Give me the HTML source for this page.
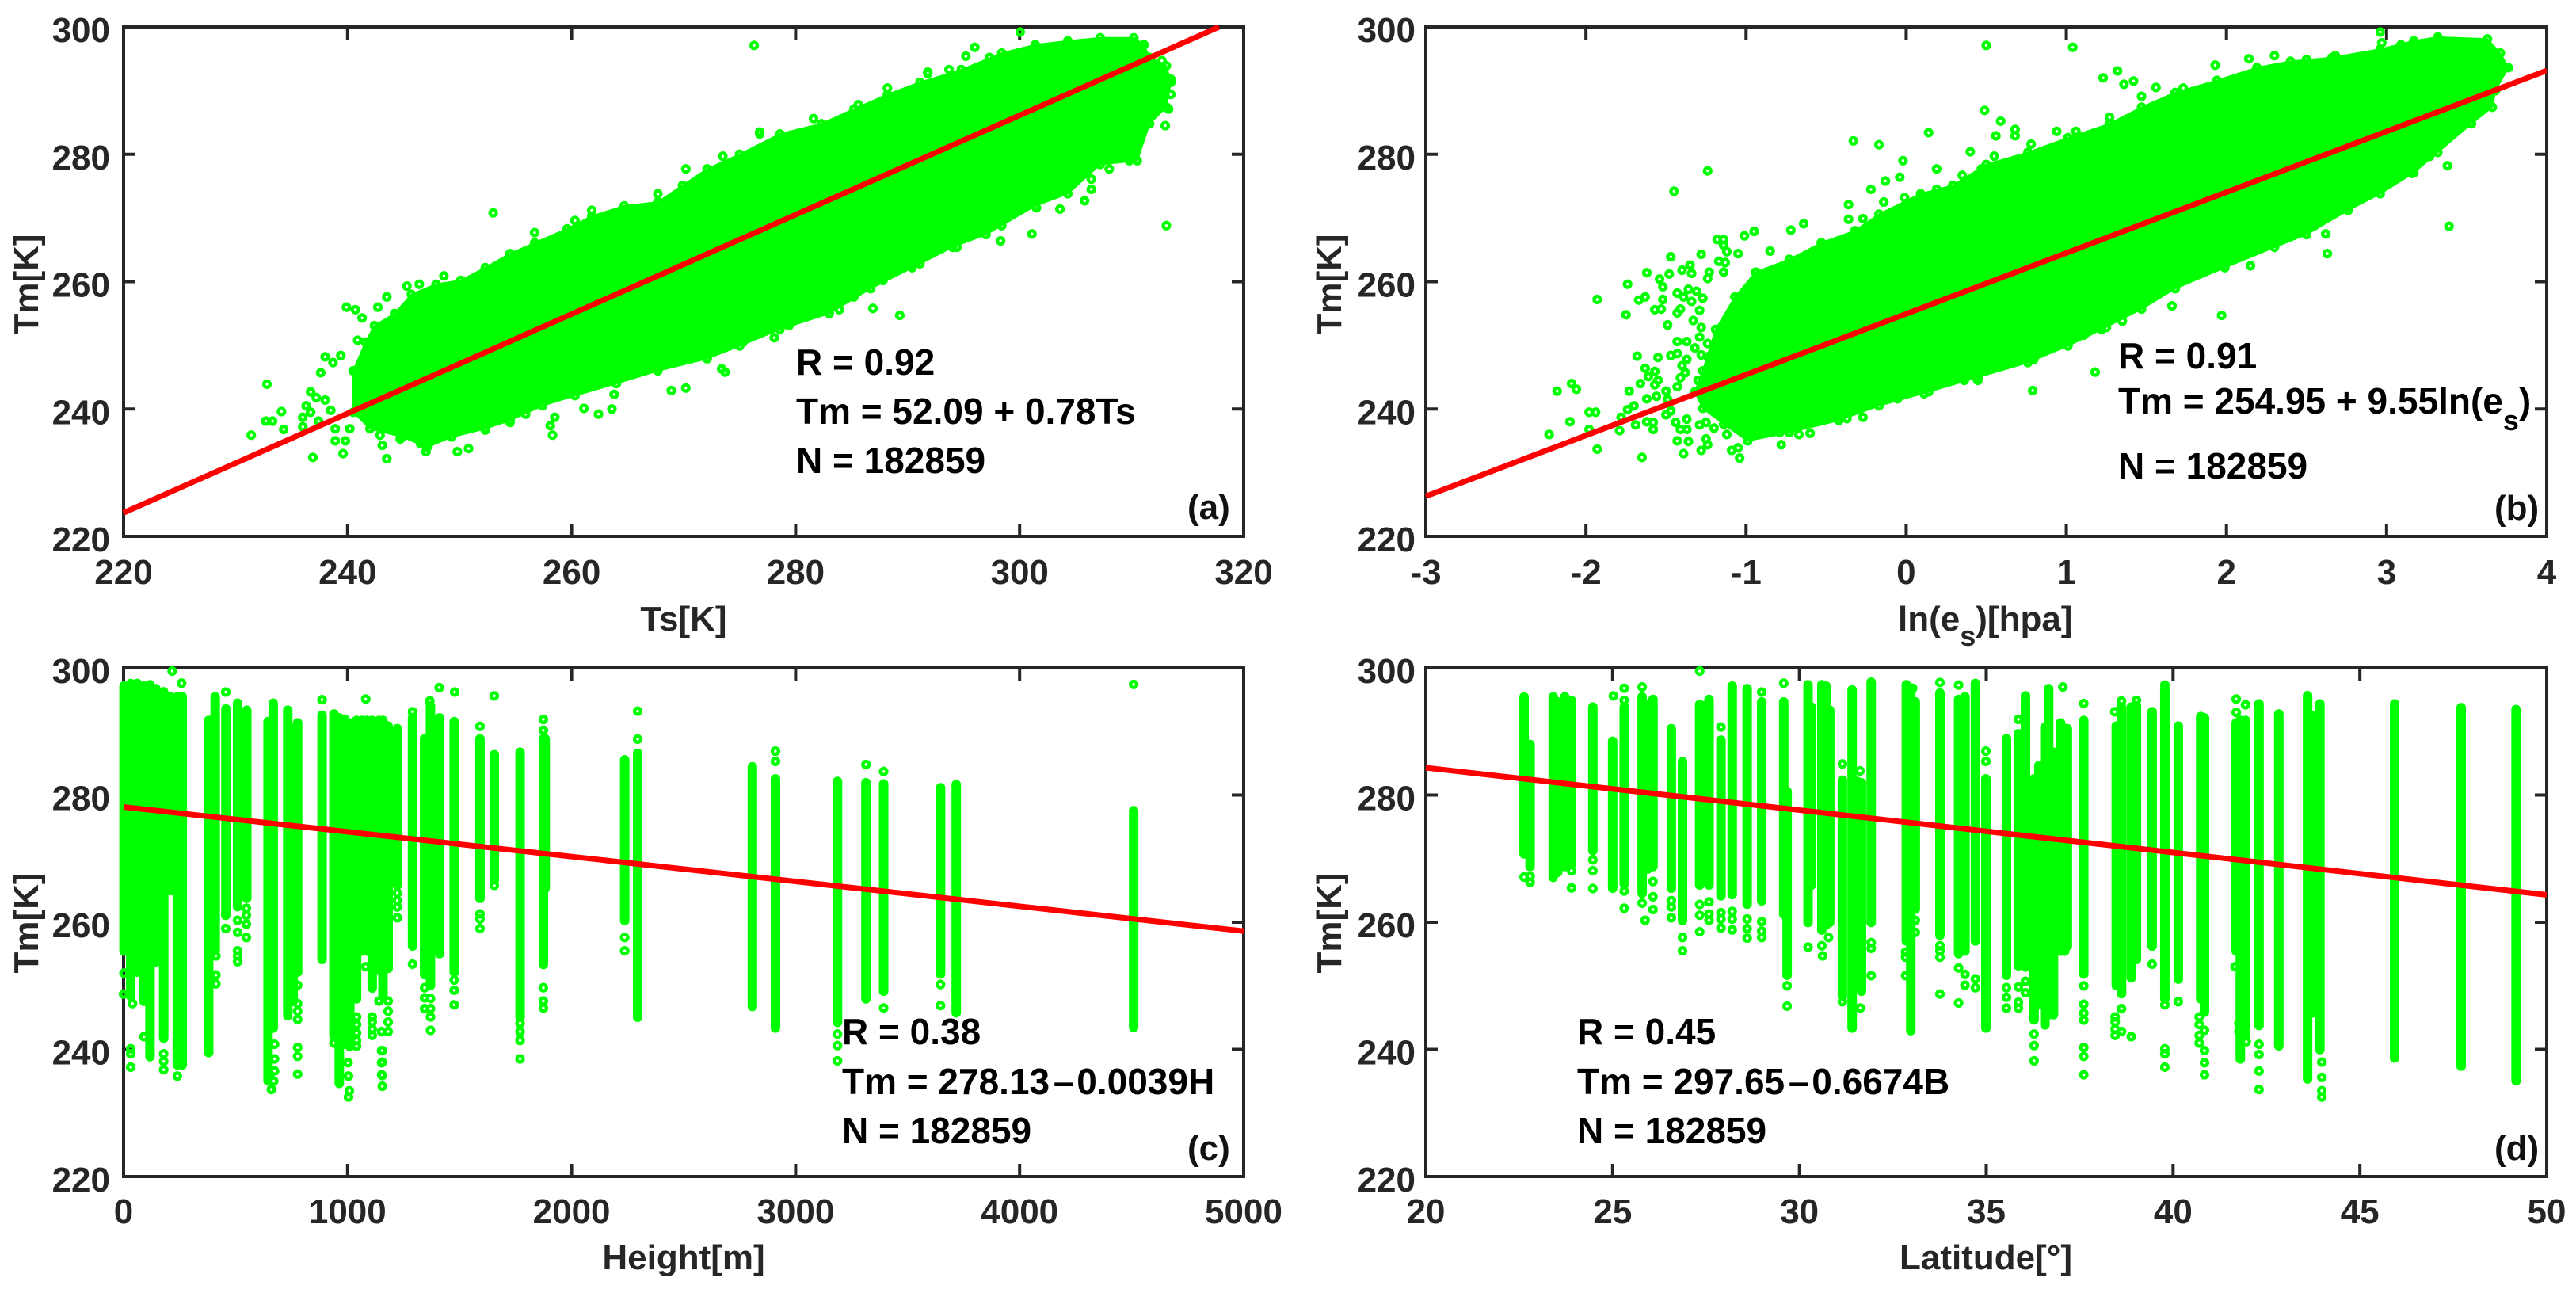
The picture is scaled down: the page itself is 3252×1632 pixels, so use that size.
<!DOCTYPE html>
<html lang="en">
<head>
<meta charset="utf-8">
<title>Tm regression scatter panels</title>
<style>
html,body{margin:0;padding:0;background:#fff;}
svg{display:block;font-family:"Liberation Sans",Arial,sans-serif;font-weight:bold;}
</style>
</head>
<body>
<svg id="figure" xmlns="http://www.w3.org/2000/svg" width="3252" height="1632" viewBox="0 0 3252 1632">
<rect x="0" y="0" width="3252" height="1632" fill="#ffffff"/>
</svg>
<script>
// Shared tick labels
const tmTicks=[220,240,260,280,300];

// Panel (a)
const aXTicks=[220,240,260,280,300,320];
const aCloudTs=[241.6,242.4,244.2,245.7,247.9,250.1,252.3,254.5,256.7,259.6,261.8,264.7,267.7,269.9,272.1,275,278.6,282.3,285.2,288.2,291.1,294.8,298.4,301.4,304.3,307.2,310.2,311.1,311.6,313.1,313.5,313.1,311.6,310.5,307.2,304.3,301.4,297,294,291.1,286.7,283,278.6,275,272.1,267.7,264,260.3,257.4,254.5,252.3,249.3,247.1,244.9,242,240.5,240.5];
const aCloudTm=[250.5,253.1,255,258,259.6,260.2,262.2,264.4,266.1,268.3,270.3,271.9,272.5,275.1,277.7,280,283.2,284.8,287.1,289.4,291.3,293.3,295.9,297.2,297.8,298.3,298.3,297.2,295.2,293.9,291.3,287.4,284.8,279,278.4,273.8,271.9,267.4,265.4,262.8,258.9,255,252.5,249.9,247.9,246,244,242.1,240.5,238.2,236.9,235.6,234,235.6,236.9,239.5,246];
const aPointTs=[300.05,276.3,253,256.7,313.1,286.9,289.3,239.9,240.7,241.3,240.9,238,239.4,238.7,237.6,232.8,236.7,237.2,238,234.1,236.3,236.7,238.5,232.7,233.3,236,234.3,236,237.4,231.4,238.9,240.2,238.9,239.8,236.9,239.6,243.5,243.1,242.9,244.7,246.5,246.5,247,249.8,250.8,252.3,254.5,255.9,258.3,258.1,258.5,261.1,262.4,263.6,263.8,268.9,270.2,273.4,273.7,278.1,283.9,298.3,301.1,301.5,303.6,305.8,306.4,306.4,308,309.8,313,313.3,313.5,313.5,312.7,310.8,296,295.2,270.2,276.8,281.6,291.8,264.7,266.2,269.1,271.3,275.3,279.4,282.7,285.2,287.8,290.4,294.4,296.2,298.4,248.6,246.4,245.3,243.5,242.7,261.8,260.3,267.7,273.5,276.8,285.6,288.2,291.8,293.7,297.3,242.4,244.2,246,247.9,250.1,253];
const aPointTm=[299.2,297.1,270.8,267.7,268.8,255.8,254.7,256,255.6,254.3,250.8,248.2,248.4,247.3,245.7,243.9,242.7,241.8,241.4,239.6,240.5,239.5,239.8,238.1,238.1,238.7,236.8,237.2,238.1,235.9,236.9,236.9,235,235,232.4,233,232.2,234.3,235.9,235.3,235.8,234.6,233.3,233.3,233.8,236.7,237.9,239.2,235.9,237.4,238.7,240.1,239.2,240,242.3,242.9,243.3,246.3,245.8,251.2,255.6,266.4,267.5,271.6,271.4,272.7,274.5,276.1,277.7,279,284.5,287.1,289.4,291.8,294.7,296.8,296.8,295.4,277.7,283.2,285.6,292.7,245.7,246.9,247.3,249.2,250.5,253.1,256,257.6,260.2,262.2,265.4,268.3,268.8,260.9,259.6,259.3,257.6,256,271.2,269.6,273.8,279.7,283.5,287.8,290.4,292.9,293.3,295.2,242.7,238.2,237.6,236.3,237.2,239.5];
const aFitTs=[220,317.8];
const aFitTm=[223.7,300];

// Panel (b)
const bXTicks=[-3,-2,-1,0,1,2,3,4];
const bCloudLn=[-1.27,-1.19,-1.07,-0.94,-0.73,-0.53,-0.32,-0.17,0.09,0.29,0.5,0.76,1.01,1.27,1.47,1.68,1.94,2.19,2.4,2.66,2.96,3.17,3.32,3.63,3.71,3.76,3.68,3.66,3.53,3.32,3.17,2.96,2.76,2.5,2.3,1.99,1.68,1.47,1.22,1.01,0.76,0.45,0.14,-0.17,-0.42,-0.73,-0.99,-1.14,-1.27,-1.32];
const bCloudTm=[246,252.5,257.6,261.5,263.5,266.1,268,270.6,273.8,275.1,278.4,280.3,282.6,284.8,287.4,289.7,291.6,293.6,294.6,295.2,296.5,297.8,298.4,298.1,295.9,293.6,290,287.4,284.8,280.3,277.1,273.8,271.2,267.4,265.4,262.2,258.9,255.7,252.5,249.9,247.3,245,242.7,240.5,238.2,236.3,235,237.6,240.1,242.7];
const bPointLn=[2.96,2.97,0.5,1.04,2.14,1.93,1.32,1.23,1.36,1.42,1.56,0.49,0.59,0.56,0.68,0.68,0.14,-0.33,-0.17,0.4,-0.02,-1.24,-1.45,-0.04,-0.13,-0.22,-0.36,-0.36,-0.64,-0.95,-1.01,-0.72,-0.85,1.18,0.79,1.66,1.97,2.55,2.62,2.63,2.15,3.39,3.38,3.27,3.16,-1.93,-1.75,-1.74,-1.67,-1.63,-1.62,-1.54,-1.52,-1.52,-1.53,-1.57,-1.47,-1.48,-1.43,-1.41,-1.43,-1.39,-1.36,-1.34,-1.33,-1.35,-1.34,-1.4,-1.49,-1.68,-1.55,-1.47,-1.43,-1.43,-1.37,-1.32,-1.63,-1.57,-1.61,-1.66,-1.55,-1.57,-1.73,-1.62,-1.56,-1.5,-1.49,-2.18,-2.09,-2.06,-1.98,-1.94,-2.1,-2.23,-1.98,-1.93,-1.65,-1.78,-1.74,-1.7,-1.79,-1.69,-1.62,-1.58,-1.58,-1.5,-1.47,-1.44,-1.41,-1.37,-1.37,-1.43,-1.36,-1.39,-1.28,-1.25,-1.24,-1.29,-1.25,-1.2,-1.12,-1.09,-1.05,-1.04,-1.28,-1.18,-1.14,-1.14,-1.12,-1.17,-1.13,-1.23,-1.24,-1.14,-1.31,-1.27,-1.29,-1.43,-1.41,-1.38,-1.4,-1.37,-1.3,-1.28,-1.29,-1.24,-1.24,-1.28,-1.05,0.797,0.53,0.447,0.363,0.112,-0.054,-0.27,-0.37,-0.52,-0.6,-0.67,-0.78,-0.79,1.11,1.25,1.35,0.9,2.3,2.5,2.68,3.09,2.96,2.24,1.73,1.47,1.27,1.06,0.94,0.78,0.55,0.47,0.35,0.19,0.19,-0.01,-0.14,-0.27,-0.32,-0.53,-0.55];
const bPointTm=[299.2,297.5,297.1,296.8,295,294,293.1,292,291,291.5,290.5,286.9,285.2,282.9,283.9,282.9,283.4,282.1,281.5,280.4,279,277.4,274.2,276.4,275.8,274.5,272.1,269.8,269.1,267.9,267.2,268.1,264.8,245.8,242.9,256.2,254.7,268.8,267.5,264.4,262.5,268.7,278.2,279.7,277,257.2,254.8,259.6,257.1,257.6,261.4,260.4,259.2,257.2,255.7,255.6,263.9,261.2,255.1,255.7,258.2,257.6,258.8,256.9,253.9,262.6,261.3,261.8,253.2,248.3,248.1,248.4,248.7,250.6,250.6,249.6,246.4,245.9,245.1,244,244.5,243.8,242.8,241.6,242,242.8,241.5,242.8,244,243.1,239.5,239.5,238,236,236.8,233.7,232.4,238.7,239.9,240.5,236.6,237.5,238,237.9,236.8,239.1,239.7,237.9,236.8,238.4,236.8,235,234.9,233,233.5,235.3,234.4,237.5,237.9,237,236,233.5,233.9,232.3,264.3,266.6,266.6,265.7,264.7,263.2,263,261.5,260.5,261.5,258.5,257.4,255.5,243.5,244.9,245.7,246.8,247.8,244.5,252.8,251.3,250.3,248.2,248.5,264.4,247.8,246.6,244.5,244.5,242.4,241.6,238.7,238.5,238.3,236.2,236,234.4,236.3,251.6,252.8,253.8,249.7,295.5,294.9,295.5,297.2,295.2,292.6,290.4,289.1,285.8,283.6,283.6,281.6,279.7,277.7,276.7,277.7,274.5,273.2,272.5,269.9,267.7,266.1,264.8];
const bFitLn=[-3,4];
const bFitTm=[226.3,293.15];

// Panel (c)
const cXTicks=[0,1000,2000,3000,4000,5000];
const cColumnHeight=[2,32,61,91,118,144,179,209,240,262,380,409,457,509,550,645,668,733,757,777,886,939,963,987,1010,1040,1063,1087,1110,1140,1158,1181,1222,1290,1344,1370,1411,1476,1591,1655,1770,1874,1882,2237,2295,2807,2910,3187,3314,3393,3647,3717,4509];
const cColumnTop=[297.9,298.3,298.3,297.9,298.1,297.5,297,296.2,296.2,296.2,292.5,296.2,294.3,295.2,294.1,292.3,295.2,294.1,291.2,292.1,293.3,293.5,292.9,292.7,292.1,292.5,292.5,292.5,292.5,292.5,292.5,291.6,291.2,292.9,289.6,294.8,292.9,292.3,289.6,287.1,287.5,289.6,289.6,286.3,287.3,285.2,283.3,282.9,282.7,282.5,281.9,282.4,278.3];
const cColumnBottom=[254.7,247.6,251.4,246.8,238.1,253,241,264.2,236.8,236.8,238.9,254.7,260.5,261.7,263,234.3,242.6,245.1,246.8,251.4,253.4,241.4,233.9,240.1,239.7,247.2,254.7,254.7,248.9,251.8,247.6,252,265.1,255.5,251,249.3,254.3,251.4,263,265.9,244.3,252.6,264.6,259.5,244.3,246,242.6,243.5,247.2,248.4,251.1,245,242.7];
const cPointHeight=[217,259,456,886,1081,1409,1478,1655,1591,1367,1290,2,0,40,32,32,32,91,179,179,179,240,380,380,412,412,412,456,456,509,509,509,509,509,548,548,548,548,674,674,674,651,777,777,777,777,733,777,777,777,1081,963,1002,963,1004,939,939,1040,1040,1040,1040,1040,1110,1110,1110,1110,1140,1181,1181,1181,1181,1152,1152,1152,1152,1222,1222,1222,1222,1290,1344,1344,1344,1370,1370,1370,1370,1476,1476,1476,1591,1591,1591,1655,1770,1770,1770,1770,1004,1008,1155,1155,1155,1155,660,670,1874,1874,1874,1874,1874,2237,2237,2295,2295,2910,2910,3187,3187,3187,3314,3393,3393,4509,3647,3647];
const cPointTm=[299.5,297.6,296.2,295,295.1,296.9,296.2,295.6,290.8,294.8,293.1,252,248.7,247.2,240.1,239.3,237.2,242,239.3,238.1,236.8,235.8,241.4,239.5,254.7,251.7,250.3,261.1,259,260.3,258.4,255.5,254.7,253.8,262.2,261.1,259.7,257.6,240.8,238.5,236.6,236,250.1,247.2,246,244.7,245.3,240.3,238.9,236.1,253,238.8,237.9,236.4,235.8,241,243.5,245.1,243.9,242.6,241.4,240.5,245.1,244.3,243.2,242.2,247.6,247.6,246,244.3,242.8,242.8,239.8,237.9,236,264.6,263.4,262.4,260.7,253.4,249.7,248.1,246.4,248,246.4,245.1,243,250.9,249.3,247,261.3,260.5,259,265.8,244.1,242.8,241.4,238.5,232.5,233.5,239.8,238,235.9,234.2,233.7,235,291.9,290.2,249.7,247.6,246.5,257.6,255.5,288.8,293.2,286.9,285.3,242.4,240.6,238.2,284.8,283.7,246.5,297.4,250.2,246.9];
const cFitHeight=[0,5000];
const cFitTm=[278.13,258.6];

// Panel (d)
const dXTicks=[20,25,30,35,40,45,50];
const dColumnLat=[22.63,22.79,23.41,23.53,23.72,23.9,24.47,25,25.31,25.79,25.94,26.08,26.57,26.87,27.33,27.46,27.58,27.9,28.2,28.6,28.99,29.58,29.67,30.23,30.32,30.6,30.71,30.81,31.15,31.41,31.55,31.66,31.92,32.86,32.98,33.1,33.76,34.26,34.43,34.71,34.99,35.54,35.86,36.05,36.28,36.41,36.57,36.67,36.8,36.99,37.1,37.17,37.61,38.48,38.62,38.88,39.02,39.44,39.78,40.14,40.74,40.84,41.69,41.8,41.94,42.3,42.83,43.6,43.75,43.93,45.93,47.71,49.18];
const dColumnTop=[296.2,288.7,296.2,295.4,296.2,295.6,294.6,289.2,294.6,296.2,295,295.8,291.2,286,295,294.8,295.8,289.4,297.9,297.5,295.4,295.4,281.3,298.1,294.6,298.1,297.9,294.1,283.1,297.3,282.9,282.7,298.5,298.1,297.3,295.4,296.8,295.8,296.2,298.3,283.3,289.6,290.4,295.8,283.3,285.4,291.4,297.5,287.5,292.1,291.2,291.2,292.5,291.6,294.6,294.6,294.8,293.3,297.5,291.6,293.1,292.9,292.1,292.5,292.5,295.1,293.5,296.4,293.2,295.1,295.1,294.5,294.2];
const dColumnBottom=[270,268,266.3,267.1,268,268.4,270.5,264.6,265.3,263.8,267.6,268,264.6,259.5,265.1,266.3,265.1,263.4,263.6,262.1,262.6,260.5,250.9,259.2,265.1,258,258.8,259.2,247.6,242.6,249.3,248.4,259.2,256.3,242.2,261.3,257.2,254.3,254.7,256.3,242.6,250.9,252.4,252.2,243.9,246.4,243.1,244.7,244.7,254.7,254.7,255.5,251.1,249.3,248,250.5,253.4,255.5,247.2,250.3,247.2,245.1,254.7,238.1,241.4,243,239.8,234.6,245,239.2,237.9,236.6,234.3];
const dPointLat=[22.63,22.79,22.79,23.9,23.9,24.47,24.47,24.47,25.02,25.31,25.31,25.31,25.31,25.79,25.79,26.08,26.08,26.08,25.87,26.57,26.57,26.57,26.87,26.87,27.33,27.33,27.33,27.33,27.58,27.58,27.58,27.9,27.9,27.9,27.9,28.2,28.2,28.2,28.6,28.6,28.6,28.99,28.99,28.99,28.99,29.58,29.67,29.67,30.23,30.6,30.62,30.78,31.15,31.15,31.62,31.63,31.92,31.92,31.92,32.84,32.84,32.84,33.03,33.1,33.1,33.76,33.76,33.76,33.76,33.76,34.26,34.26,34.26,34.43,34.43,34.71,34.71,34.99,34.99,35.54,35.54,35.54,35.86,35.86,35.86,35.86,36.05,36.05,36.05,36.28,36.28,36.28,37.05,37.61,37.61,37.61,37.61,37.61,37.61,37.61,37.61,38.44,38.62,38.45,38.45,38.45,38.45,38.62,38.62,38.88,39.02,39.44,39.44,39.78,39.78,39.78,39.78,39.78,40.14,40.7,40.7,40.7,40.7,40.84,40.84,40.84,40.84,41.69,41.94,41.69,41.66,41.76,41.76,41.8,41.96,42.3,42.3,42.3,42.3,43.98,43.98,43.98,43.98];
const dPointTm=[267.1,267.2,266.3,268.1,265.4,269.8,268.1,265.3,295.6,296.8,294.9,264.9,262.2,297,263,266.4,264,262,260.3,263.4,262.4,260.7,257.6,255.5,299.5,262.8,261.1,258.5,263.2,261.3,260.3,290.7,261.5,260.5,259.1,261.7,260.5,258.8,260.5,259,257.5,296.2,260.1,258.6,257.6,297.6,250,246.8,256.1,256.3,254.7,257.6,284.9,247.5,283.8,246.5,256.8,255.9,251.6,255.3,254.5,251.6,296.8,260.3,258.4,297.7,256.3,255.5,254.5,248.7,297.3,252.8,247.3,251.8,250.1,251.1,249.7,286.9,285.3,249.7,248.2,246.5,291.9,249.8,247.4,246.5,250.7,248.9,295.6,242.4,240.6,238.2,297,294.4,250,247.1,245.7,244.6,240.3,238.9,236,293.1,294.8,245.1,244.3,243.2,242.2,246.4,242.8,242,294.9,253.4,293.1,297.3,247,240.1,239.3,237.2,247.5,245.1,243.9,242.2,241,243,239.8,237.9,236,295.1,294.2,293,253,244.1,242.8,238.5,241.2,240.8,239.2,236.6,233.7,238,235.6,233.5,232.5];
const dFitLat=[20,50];
const dFitTm=[284.3,264.3];

const SVG_NS='http://www.w3.org/2000/svg';
const figure=document.getElementById('figure');
const AXIS_COLOR='#262626';
const GREEN='#00ff00';

function shape(tag,parent,attrs){
  const node=document.createElementNS(SVG_NS,tag);
  for(const key in attrs){node.setAttribute(key,attrs[key]);}
  parent.appendChild(node);
  return node;
}
function scale(d0,d1,p0,p1){return function(v){return p0+(v-d0)*(p1-p0)/(d1-d0);};}

function drawAxes(group,box,xs,ys,xTicks,xBase,yLabelRight){
  const frame=shape('rect',group,{x:box.left,y:box.top,width:box.right-box.left,height:box.bottom-box.top,fill:'none',stroke:AXIS_COLOR,'stroke-width':4});
  
  
  xTicks.forEach(function(t){
    const px=xs(t);
    const low=shape('line',group,{x1:px,x2:px,y1:box.bottom,y2:box.bottom-16,stroke:AXIS_COLOR,'stroke-width':4});
    
    
    const high=shape('line',group,{x1:px,x2:px,y1:box.top,y2:box.top+16,stroke:AXIS_COLOR,'stroke-width':4});
    
    
    const label=shape('text',group,{x:px,y:xBase,'text-anchor':'middle','font-size':44,fill:AXIS_COLOR});
    label.textContent=String(t);
    
    
  });
  tmTicks.forEach(function(t){
    const py=ys(t);
    const left=shape('line',group,{x1:box.left,x2:box.left+15,y1:py,y2:py,stroke:AXIS_COLOR,'stroke-width':4});
    
    
    const right=shape('line',group,{x1:box.right,x2:box.right-15,y1:py,y2:py,stroke:AXIS_COLOR,'stroke-width':4});
    
    
    const label=shape('text',group,{x:yLabelRight,y:py+19,'text-anchor':'end','font-size':44,fill:AXIS_COLOR});
    label.textContent=String(t);
    
    
  });
}

function drawCloud(group,xs,ys,cx,cy){
  const count=Math.min(cx.length,cy.length);
  let pts='';
  for(let i=0;i<count;i++){pts+=xs(cx[i]).toFixed(1)+','+ys(cy[i]).toFixed(1)+' ';}
  const cloud=shape('polygon',group,{points:pts,fill:GREEN,stroke:GREEN,'stroke-width':2,'stroke-linejoin':'round'});
  
  
}

function drawColumns(group,xs,ys,cx,top,bottom){
  const count=Math.min(cx.length,top.length,bottom.length);
  for(let i=0;i<count;i++){
    const px=Math.max(xs(cx[i]),xs(cx[0]));
    const column=shape('line',group,{x1:px,x2:px,y1:ys(top[i])+6,y2:ys(bottom[i])-6,stroke:GREEN,'stroke-width':12,'stroke-linecap':'round'});
    
    
  }
}

function drawPoints(group,xs,ys,px,py){
  const count=Math.min(px.length,py.length);
  for(let i=0;i<count;i++){
    const ring=shape('circle',group,{cx:xs(px[i]),cy:ys(py[i]),r:3.9,fill:'none',stroke:GREEN,'stroke-width':4.4});
    
    
  }
}

function drawFit(group,xs,ys,fx,fy){
  const fit=shape('line',group,{x1:xs(fx[0]),y1:ys(fy[0]),x2:xs(fx[1]),y2:ys(fy[1]),stroke:'#ff0000','stroke-width':7});
  
  
}

function addText(group,content,x,y,size,fill,anchor,name){
  const label=shape('text',group,{x:x,y:y,'font-size':size,fill:fill,'text-anchor':anchor});
  label.textContent=content;
  
  
  return label;
}

function addYLabel(group,baselineX,centerY){
  const label=shape('text',group,{transform:'translate('+baselineX+','+centerY+') rotate(-90)','text-anchor':'middle','font-size':44,fill:AXIS_COLOR});
  label.textContent='Tm[K]';
  
  
}

function addSpan(parent,content,size,dy){
  const span=shape('tspan',parent,{'font-size':size,dy:dy});
  span.textContent=content;
  return span;
}

function addTightSpan(parent,content,dx){
  const span=shape('tspan',parent,{dx:dx});
  span.textContent=content;
  return span;
}

const boxA={left:156,right:1570,top:34,bottom:677};
const boxB={left:1800,right:3215,top:34,bottom:677};
const boxC={left:156,right:1570,top:843,bottom:1485};
const boxD={left:1800,right:3215,top:843,bottom:1485};

// Panel a
const groupA=shape('g',figure,{});


const ax=scale(220,320,boxA.left,boxA.right);
const ay=scale(220,300,boxA.bottom,boxA.top);
drawAxes(groupA,boxA,ax,ay,aXTicks,737,139);
drawCloud(groupA,ax,ay,aCloudTs,aCloudTm);
drawPoints(groupA,ax,ay,aCloudTs,aCloudTm);
drawPoints(groupA,ax,ay,aPointTs,aPointTm);
drawFit(groupA,ax,ay,aFitTs,aFitTm);
addText(groupA,'R = 0.92',1005,473,46,'#000','start','correlation-note');
addText(groupA,'Tm = 52.09 + 0.78Ts',1005,535,46,'#000','start','equation-note');
addText(groupA,'N = 182859',1005,597,46,'#000','start','sample-size-note');
addText(groupA,'(a)',1499,655,44,'#111','start','panel-letter');
addText(groupA,'Ts[K]',863,796,44,AXIS_COLOR,'middle','x-axis-title');
addYLabel(groupA,48,359);

// Panel b
const groupB=shape('g',figure,{});


const bx=scale(-3,4,boxB.left,boxB.right);
const by=scale(220,300,boxB.bottom,boxB.top);
drawAxes(groupB,boxB,bx,by,bXTicks,737,1787);
drawCloud(groupB,bx,by,bCloudLn,bCloudTm);
drawPoints(groupB,bx,by,bCloudLn,bCloudTm);
drawPoints(groupB,bx,by,bPointLn,bPointTm);
drawFit(groupB,bx,by,bFitLn,bFitTm);
addText(groupB,'R = 0.91',2674,465,46,'#000','start','correlation-note');
const bEq=addText(groupB,'',2674,522,46,'#000','start','equation-note');
addSpan(bEq,'Tm = 254.95 + 9.55ln(e',46,0);
addSpan(bEq,'s',36,21);
addSpan(bEq,')',46,-21);
addText(groupB,'N = 182859',2674,604,46,'#000','start','sample-size-note');
addText(groupB,'(b)',3149,656,44,'#111','start','panel-letter');
const bTitle=addText(groupB,'',2396,796,44,AXIS_COLOR,'start','x-axis-title');
addSpan(bTitle,'ln(e',44,0);
addSpan(bTitle,'s',36,19);
addSpan(bTitle,')[hpa]',44,-19);
addYLabel(groupB,1693,359);

// Panel c
const groupC=shape('g',figure,{});


const cx=scale(0,5000,boxC.left,boxC.right);
const cy=scale(220,300,boxC.bottom,boxC.top);
drawAxes(groupC,boxC,cx,cy,cXTicks,1544,139);
drawColumns(groupC,cx,cy,cColumnHeight,cColumnTop,cColumnBottom);
drawPoints(groupC,cx,cy,cPointHeight,cPointTm);
drawFit(groupC,cx,cy,cFitHeight,cFitTm);
addText(groupC,'R = 0.38',1063,1318,46,'#000','start','correlation-note');
const cEq=addText(groupC,'',1063,1381,46,'#000','start','equation-note');
addTightSpan(cEq,'Tm = 278.13 ',0);
addTightSpan(cEq,'\u2013 ',-8);
addTightSpan(cEq,'0.0039H',-9);
addText(groupC,'N = 182859',1063,1443,46,'#000','start','sample-size-note');
addText(groupC,'(c)',1499,1464,44,'#111','start','panel-letter');
addText(groupC,'Height[m]',863,1602,44,AXIS_COLOR,'middle','x-axis-title');
addYLabel(groupC,48,1165);

// Panel d
const groupD=shape('g',figure,{});


const dx=scale(20,50,boxD.left,boxD.right);
const dy=scale(220,300,boxD.bottom,boxD.top);
drawAxes(groupD,boxD,dx,dy,dXTicks,1544,1787);
drawColumns(groupD,dx,dy,dColumnLat,dColumnTop,dColumnBottom);
drawPoints(groupD,dx,dy,dPointLat,dPointTm);
drawFit(groupD,dx,dy,dFitLat,dFitTm);
addText(groupD,'R = 0.45',1991,1318,46,'#000','start','correlation-note');
const dEq=addText(groupD,'',1991,1381,46,'#000','start','equation-note');
addTightSpan(dEq,'Tm = 297.65 ',0);
addTightSpan(dEq,'\u2013 ',-8);
addTightSpan(dEq,'0.6674B',-9);
addText(groupD,'N = 182859',1991,1443,46,'#000','start','sample-size-note');
addText(groupD,'(d)',3149,1464,44,'#111','start','panel-letter');
addText(groupD,'Latitude[\u00b0]',2507,1602,44,AXIS_COLOR,'middle','x-axis-title');
addYLabel(groupD,1693,1165);
</script>
</body>
</html>
